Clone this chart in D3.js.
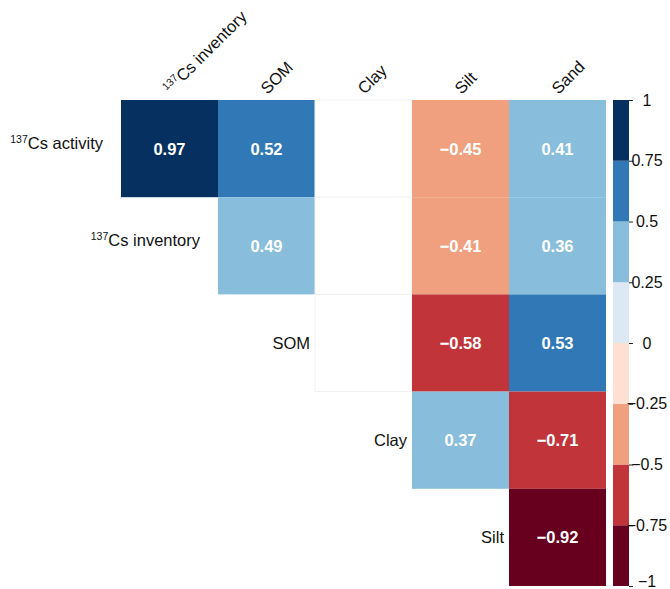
<!DOCTYPE html>
<html>
<head>
<meta charset="utf-8">
<script src="https://cdn.jsdelivr.net/npm/d3@7"></script>
<style>
  html, body { margin: 0; padding: 0; background: #fff; }
  svg { display: block; font-family: "Liberation Sans", Arial, sans-serif; }
</style>
</head>
<body>
<svg id="chart" width="670" height="589"></svg>
<script>
// Variables: [superscript prefix, name]
const rowVars = [["137", "Cs activity"], ["137", "Cs inventory"], ["", "SOM"], ["", "Clay"], ["", "Silt"]];
const colVars = [["137", "Cs inventory"], ["", "SOM"], ["", "Clay"], ["", "Silt"], ["", "Sand"]];

// Correlation coefficients, upper triangle; null = not significant (blank), undefined = not drawn
const r1 = [0.97, 0.52, null, -0.45, 0.41];
const r2 = [undefined, 0.49, null, -0.41, 0.36];
const r3 = [undefined, undefined, null, -0.58, 0.53];
const r4 = [undefined, undefined, undefined, 0.37, -0.71];
const r5 = [undefined, undefined, undefined, undefined, -0.92];
const corr = [r1, r2, r3, r4, r5];

// Colour classes for the diverging legend
const breaks = [-0.75, -0.5, -0.25, 0, 0.25, 0.5, 0.75];
const palette = ["#67001f", "#c1353a", "#f0a07e", "#fde0d3", "#dce9f4", "#88bedc", "#3179b6", "#06305f"];
const legendTicks = [-1, -0.75, -0.5, -0.25, 0, 0.25, 0.5, 0.75, 1];

const svg = d3.select("#chart");
const color = d3.scaleThreshold().domain(breaks).range(palette);

const x = d3.scaleBand().domain(d3.range(colVars.length)).range([121, 606]).padding(0);
const y = d3.scaleBand().domain(d3.range(rowVars.length)).range([100, 586]).padding(0);

const cells = [];
corr.forEach((row, i) => row.forEach((v, j) => {
  if (v !== undefined) cells.push({ i, j, v });
}));

const g = svg.append("g");
g.selectAll("rect.cell").data(cells).join("rect")
  .attr("class", "cell")
  .attr("x", d => x(d.j))
  .attr("y", d => y(d.i))
  .attr("width", x.bandwidth())
  .attr("height", y.bandwidth())
  .attr("fill", d => d.v === null ? "#ffffff" : color(d.v))
  .attr("stroke", d => d.v === null ? "#f1f1f1" : "none")
  .attr("stroke-width", 1);

const fmt = v => (v < 0 ? "\u2212" : "") + d3.format(".2f")(Math.abs(v));

g.selectAll("text.val").data(cells.filter(d => d.v !== null)).join("text")
  .attr("class", "val")
  .attr("x", d => x(d.j) + x.bandwidth() / 2)
  .attr("y", d => y(d.i) + y.bandwidth() / 2)
  .attr("dy", "0.36em")
  .attr("text-anchor", "middle")
  .attr("fill", "#ffffff")
  .attr("font-weight", "bold")
  .attr("font-size", 16.5)
  .text(d => fmt(d.v));

// Label with optional superscript isotope number
function label(sel, v) {
  if (v[0]) {
    sel.append("tspan").attr("font-size", 10.5).attr("dy", -6).text(v[0]);
    sel.append("tspan").attr("dy", 6).text(v[1]);
  } else {
    sel.text(v[1]);
  }
}

// Column labels, rotated
colVars.forEach((v, j) => {
  const cx = x(j) + x.bandwidth() / 2 + 1;
  const t = svg.append("text")
    .attr("transform", `translate(${cx},95) rotate(-45)`)
    .attr("font-size", 16.5)
    .attr("fill", "#111");
  label(t, v);
});

// Row labels, placed to the left of the first drawn cell of each row
rowVars.forEach((v, i) => {
  const first = corr[i].findIndex(d => d !== undefined);
  const gap = v[0] ? 18 : 5;
  const t = svg.append("text")
    .attr("x", x(first) - gap)
    .attr("y", y(i) + y.bandwidth() / 2)
    .attr("dy", "0.35em")
    .attr("text-anchor", "end")
    .attr("font-size", 16.5)
    .attr("fill", "#111");
  label(t, v);
});

// Colour legend
const ly = d3.scaleLinear().domain([-1, 1]).range([586, 100]);
const legendX = 613, legendW = 16;
const bins = d3.range(palette.length).map(k => ({ lo: legendTicks[k], hi: legendTicks[k + 1], c: palette[k] }));
svg.append("g").selectAll("rect").data(bins).join("rect")
  .attr("x", legendX)
  .attr("y", d => ly(d.hi))
  .attr("width", legendW)
  .attr("height", d => ly(d.lo) - ly(d.hi))
  .attr("fill", d => d.c);

const axis = d3.axisRight(ly).tickValues(legendTicks).tickSize(4)
  .tickFormat(v => (v < 0 ? "\u2212" : "") + String(Math.abs(v)));
const ag = svg.append("g").attr("transform", `translate(${legendX + legendW},0)`).call(axis);
ag.select(".domain").remove();
ag.selectAll(".tick line").attr("stroke", "#222");
ag.selectAll(".tick text")
  .attr("x", 18)
  .attr("dy", v => v === -1 ? "0.05em" : "0.32em")
  .attr("text-anchor", "middle")
  .attr("font-size", 16)
  .attr("font-family", "Liberation Sans, Arial, sans-serif")
  .attr("fill", "#111");
</script>
</body>
</html>
